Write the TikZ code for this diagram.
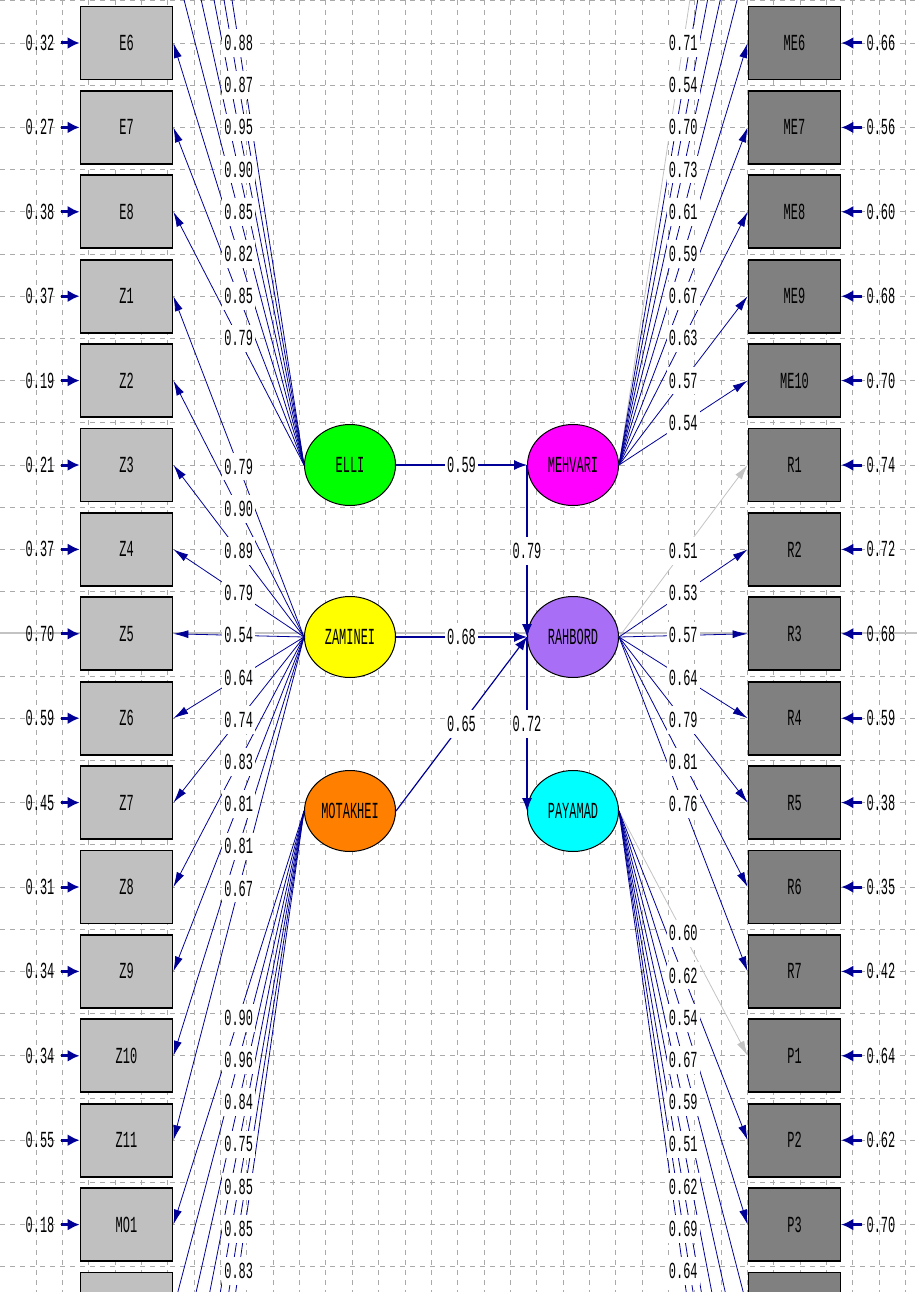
\documentclass[tikz,border=0pt]{standalone}
\usepackage{fontspec}
\newfontfamily\lisfont[FakeStretch=0.52]{Liberation Mono}
\usetikzlibrary{calc, chains, positioning, arrows.meta, shapes.geometric}

\definecolor{lisblue}{RGB}{0,0,150}
\definecolor{fixgray}{RGB}{195,195,195}
\definecolor{gridgray}{RGB}{170,170,170}
\definecolor{obsleft}{RGB}{192,192,192}
\definecolor{obsright}{RGB}{128,128,128}
\definecolor{colelli}{RGB}{0,255,0}
\definecolor{colmeh}{RGB}{255,0,255}
\definecolor{colzam}{RGB}{255,255,0}
\definecolor{colrah}{RGB}{168,110,245}
\definecolor{colmot}{RGB}{255,128,0}
\definecolor{colpay}{RGB}{0,255,255}

\tikzset{
  txt/.style={font=\lisfont\fontsize{23}{23}\selectfont},
  obs/.style={txt, draw=black, line width=1.8pt, minimum width=92pt,
    minimum height=73pt, inner sep=0pt},
  obsL/.style={obs, fill=obsleft},
  obsR/.style={obs, fill=obsright},
  latent/.style={txt, ellipse, draw=black, line width=1pt,
    minimum width=91pt, minimum height=81pt, inner sep=0pt},
  loading/.style={lisblue, line width=0.8pt, -{Latex[length=15pt,width=8pt]}},
  fixload/.style={loading, fixgray},
  struct/.style={lisblue, line width=1.2pt, -{Latex[length=13pt,width=10pt]}},
  coef/.style={txt, fill=white, inner xsep=2pt, inner ysep=6pt},
  errval/.style={txt, inner xsep=3pt, inner ysep=1pt},
  errarr/.style={lisblue, line width=3pt, -{Latex[length=12pt,width=12pt]}},
  gridline/.style={gridgray, line width=0.8pt, dash pattern=on 5pt off 5pt}
}

\begin{document}
\begin{tikzpicture}[x=1pt, y=-1pt]
  \useasboundingbox (0,0) rectangle (917,1292);
  \clip (0,0) rectangle (917,1292);

  % grid
  \foreach \k in {0,...,33}
    \draw[gridline] (36+26.35*\k,0) -- (36+26.35*\k,1292);
  \foreach \k in {0,...,30}
    \draw[gridline] (0,0.8+42.2*\k) -- (917,0.8+42.2*\k);
  \draw[fixgray, line width=1.2pt] (0,633) -- (917,633);

  % observed variables
  \begin{scope}[start chain=lcol going below, node distance=9.6pt]
    \node[obsL, on chain=lcol] (E6) at (126.5,43) {E6};
    \foreach \n in {E7,E8,Z1,Z2,Z3,Z4,Z5,Z6,Z7,Z8,Z9,Z10,Z11,MO1}
      \node[obsL, on chain=lcol] (\n) {\n};
    \node[obsL, on chain=lcol] (MO2) {};
  \end{scope}
  \begin{scope}[start chain=rcol going below, node distance=9.6pt]
    \node[obsR, on chain=rcol] (ME6) at (794.5,43) {ME6};
    \foreach \n in {ME7,ME8,ME9,ME10,R1,R2,R3,R4,R5,R6,R7,P1,P2,P3}
      \node[obsR, on chain=rcol] (\n) {\n};
    \node[obsR, on chain=rcol] (P4) {};
  \end{scope}

  % outside the frame
  \foreach \n [count=\i] in {E5,E4,E3,E2,E1}
    \coordinate (\n) at ($(E6.east)+(0,-84.4*\i)$);
  \foreach \n [count=\i] in {ME5,ME4,ME3,ME2,ME1}
    \coordinate (\n) at ($(ME6.west)+(0,-84.4*\i)$);
  \foreach \n [count=\i] in {MO3,MO4,MO5,MO6,MO7}
    \coordinate (\n) at ($(MO2.east)+(0,84.4*\i)$);
  \foreach \n [count=\i] in {P5,P6,P7,P8,P9}
    \coordinate (\n) at ($(P4.west)+(0,84.4*\i)$);

  % latent variables
  \node[latent, fill=colelli] (ELLI) at (350,465) {ELLI};
  \node[latent, fill=colmeh, right=131pt of ELLI] (MEHVARI) {MEHVARI};
  \node[latent, fill=colzam, below=90pt of ELLI] (ZAMINEI) {ZAMINEI};
  \node[latent, fill=colrah, right=131pt of ZAMINEI] (RAHBORD) {RAHBORD};
  \node[latent, fill=colmot, below=92pt of ZAMINEI] (MOTAKHEI) {MOTAKHEI};
  \node[latent, fill=colpay, right=131pt of MOTAKHEI] (PAYAMAD) {PAYAMAD};

  \def\loadlist{
    ELLI.west/E1/0.88/loading, ELLI.west/E2/0.87/loading,
    ELLI.west/E3/0.95/loading, ELLI.west/E4/0.90/loading,
    ELLI.west/E5/0.85/loading, ELLI.west/E6.east/0.82/loading,
    ELLI.west/E7.east/0.85/loading, ELLI.west/E8.east/0.79/loading,
    ZAMINEI.west/Z1.east/0.79/loading, ZAMINEI.west/Z2.east/0.90/loading,
    ZAMINEI.west/Z3.east/0.89/loading, ZAMINEI.west/Z4.east/0.79/loading,
    ZAMINEI.west/Z5.east/0.54/loading, ZAMINEI.west/Z6.east/0.64/loading,
    ZAMINEI.west/Z7.east/0.74/loading, ZAMINEI.west/Z8.east/0.83/loading,
    ZAMINEI.west/Z9.east/0.81/loading, ZAMINEI.west/Z10.east/0.81/loading,
    ZAMINEI.west/Z11.east/0.67/loading,
    MOTAKHEI.west/MO1.east/0.90/loading, MOTAKHEI.west/MO2.east/0.96/loading,
    MOTAKHEI.west/MO3/0.84/loading, MOTAKHEI.west/MO4/0.75/loading,
    MOTAKHEI.west/MO5/0.85/loading, MOTAKHEI.west/MO6/0.85/loading,
    MOTAKHEI.west/MO7/0.83/loading,
    MEHVARI.east/ME1/0.71/fixload, MEHVARI.east/ME2/0.54/loading,
    MEHVARI.east/ME3/0.70/loading, MEHVARI.east/ME4/0.73/loading,
    MEHVARI.east/ME5/0.61/loading, MEHVARI.east/ME6.west/0.59/loading,
    MEHVARI.east/ME7.west/0.67/loading, MEHVARI.east/ME8.west/0.63/loading,
    MEHVARI.east/ME9.west/0.57/loading, MEHVARI.east/ME10.west/0.54/loading,
    RAHBORD.east/R1.west/0.51/fixload, RAHBORD.east/R2.west/0.53/loading,
    RAHBORD.east/R3.west/0.57/loading, RAHBORD.east/R4.west/0.64/loading,
    RAHBORD.east/R5.west/0.79/loading, RAHBORD.east/R6.west/0.81/loading,
    RAHBORD.east/R7.west/0.76/loading,
    PAYAMAD.east/P1.west/0.60/fixload, PAYAMAD.east/P2.west/0.62/loading,
    PAYAMAD.east/P3.west/0.54/loading, PAYAMAD.east/P4.west/0.67/loading,
    PAYAMAD.east/P5/0.59/loading, PAYAMAD.east/P6/0.51/loading,
    PAYAMAD.east/P7/0.62/loading, PAYAMAD.east/P8/0.69/loading,
    PAYAMAD.east/P9/0.64/loading}
  \def\structlist{
    ELLI.east/MEHVARI.west/0.59, ZAMINEI.east/RAHBORD.west/0.68,
    MOTAKHEI.east/RAHBORD.west/0.65, MEHVARI.west/RAHBORD.west/0.79,
    RAHBORD.west/PAYAMAD.west/0.72}

  % paths
  \foreach \lv/\t/\v/\s in \loadlist
    \draw[\s] (\lv) -- (\t);
  \foreach \a/\b/\v in \structlist
    \draw[struct] (\a) -- (\b);

  % error variances
  \foreach \n/\v in {E6/0.32,E7/0.27,E8/0.38,Z1/0.37,Z2/0.19,Z3/0.21,Z4/0.37,
      Z5/0.70,Z6/0.59,Z7/0.45,Z8/0.31,Z9/0.34,Z10/0.34,Z11/0.55,MO1/0.18} {
    \node[errval, left=22pt of \n] (e\n) {\v};
    \draw[errarr, shorten <=3pt] (e\n) -- (\n);
  }
  \foreach \n/\v in {ME6/0.66,ME7/0.56,ME8/0.60,ME9/0.68,ME10/0.70,R1/0.74,
      R2/0.72,R3/0.68,R4/0.59,R5/0.38,R6/0.35,R7/0.42,P1/0.64,P2/0.62,P3/0.70} {
    \node[errval, right=22pt of \n] (e\n) {\v};
    \draw[errarr, shorten <=1pt] (e\n) -- (\n);
  }

  % coefficients on top
  \foreach \lv/\t/\v/\s in \loadlist
    \path (\lv) -- (\t) node[coef, midway] {\v};
  \foreach \a/\b/\v in \structlist
    \path (\a) -- (\b) node[coef, midway] {\v};
\end{tikzpicture}
\end{document}
